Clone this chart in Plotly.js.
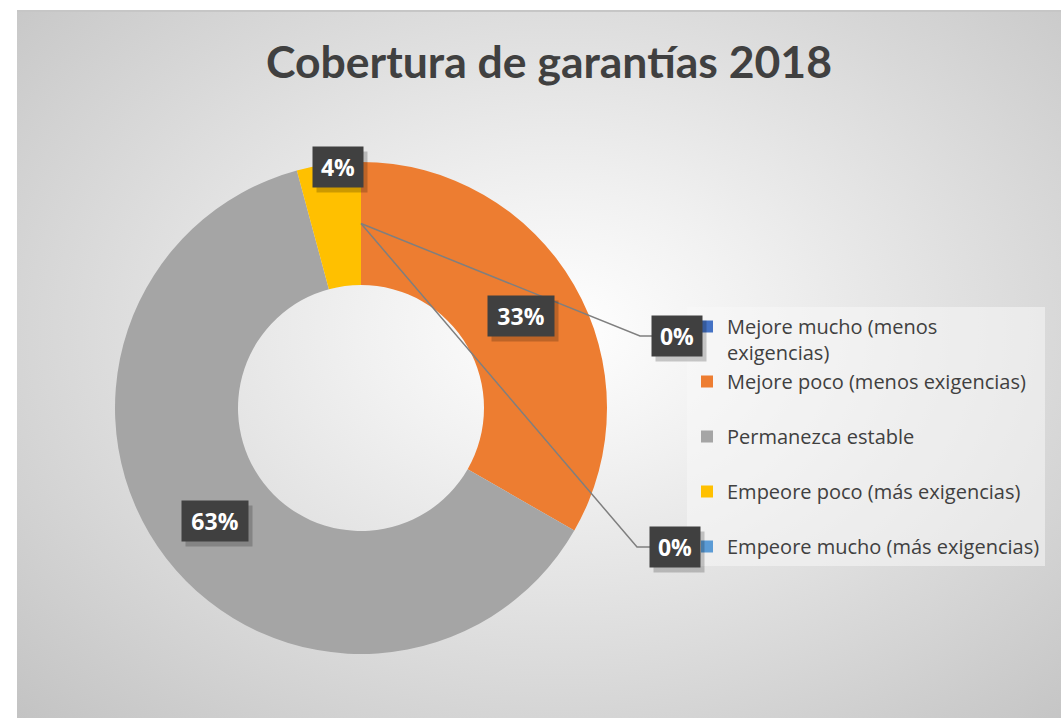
<!DOCTYPE html>
<html>
<head>
<meta charset="utf-8">
<script src="https://cdn.plot.ly/plotly-3.0.1.min.js"></script>
<style>
  html, body { margin: 0; padding: 0; background: #ffffff; }
  #wrap { position: relative; width: 1061px; height: 718px; overflow: hidden; background: #ffffff; }
  #bg { position: absolute; left: 17px; top: 10px; width: 1044px; height: 708px;
        border-top: 2px solid #c6c6c6; box-sizing: border-box;
        background: radial-gradient(ellipse farthest-corner at 52% 45%, #ffffff 0%, #f1f1f1 25%, #c3c3c3 100%); }
  #chart { position: absolute; left: 0; top: 0; width: 1061px; height: 718px; }
</style>
</head>
<body>
<div id="wrap">
  <div id="bg"></div>
  <div id="chart"></div>
</div>
<script>
// ---- data ----
const categories = [
  'Mejore mucho (menos exigencias)',
  'Mejore poco (menos exigencias)',
  'Permanezca estable',
  'Empeore poco (más exigencias)',
  'Empeore mucho (más exigencias)'
];
const legendLabels = [
  'Mejore mucho (menos<br>exigencias)',
  'Mejore poco (menos exigencias)<br>\u00a0',
  'Permanezca estable<br>\u00a0',
  'Empeore poco (más exigencias)<br>\u00a0',
  'Empeore mucho (más exigencias)'
];
const shares = [0, 33.3, 62.5, 4.2, 0];
const sliceColors = ['#4472C4', '#ED7D31', '#A5A5A5', '#FFC000', '#5B9BD5'];
const chartTitle = 'Cobertura de garantías 2018';

// ---- geometry / style ----
const W = 1061, H = 718;
const cx = 361, cy = 408, R = 246, holeFrac = 0.5;
const px = x => x / W;
const py = y => 1 - y / H;

const total = shares.reduce((a, b) => a + b, 0);
// label placement style per slice
const labelStyle = [
  { box: [677, 336], elbow: [640, 336] },
  { ring: 0.5, dx: 0, dy: 0 },
  { ring: 0.5, dx: 0, dy: 0 },
  { ring: 0.98, dx: 9, dy: 0 },
  { box: [675, 547], elbow: [637, 547] }
];

function polar(angDeg, r) {
  const a = angDeg * Math.PI / 180;
  return [cx + r * Math.sin(a), cy - r * Math.cos(a)];
}

const annotations = [];
const shapes = [];
let cum = 0;
shares.forEach((v, i) => {
  const mid = (cum + v / 2) / total * 360;
  cum += v;
  const pct = Math.round(v / total * 100) + '%';
  const st = labelStyle[i];
  let pos;
  if (st.box) {
    const start = polar(mid, R * (1 + holeFrac) / 2);
    pos = st.box;
    shapes.push({
      type: 'path', xref: 'paper', yref: 'paper',
      path: `M${px(start[0])},${py(start[1])} L${px(st.elbow[0])},${py(st.elbow[1])} L${px(pos[0] - 24)},${py(st.elbow[1])}`,
      line: { color: '#7f7f7f', width: 1.5 }
    });
  } else {
    const r = R * holeFrac + st.ring * R * (1 - holeFrac);
    const p = polar(mid, r);
    pos = [p[0] + st.dx, p[1] + st.dy];
  }
  const w = pct.length === 2 ? 40 : 56;
  // shadow box (no text)
  annotations.push({
    xref: 'paper', yref: 'paper', x: px(pos[0] + 4), y: py(pos[1] + 5),
    xanchor: 'center', yanchor: 'middle',
    text: '\u00a0', showarrow: false, width: w, height: 30, borderpad: 5,
    bgcolor: 'rgba(0,0,0,0.2)', font: { family: 'Open Sans', size: 23, color: 'rgba(0,0,0,0)' }
  });
  annotations.push({
    xref: 'paper', yref: 'paper', x: px(pos[0]), y: py(pos[1]),
    xanchor: 'center', yanchor: 'middle',
    text: '<b>' + pct + '</b>', showarrow: false, width: w, height: 30, borderpad: 5,
    bgcolor: '#404040', font: { family: 'Open Sans', size: 23, color: '#ffffff' }
  });
});

const trace = {
  type: 'pie',
  labels: legendLabels,
  values: shares,
  hovertext: categories,
  sort: false,
  direction: 'clockwise',
  rotation: 0,
  hole: holeFrac,
  textinfo: 'none',
  marker: { colors: sliceColors, line: { width: 0 } },
  domain: { x: [px(cx - R), px(cx + R)], y: [py(cy + R), py(cy - R)] },
  showlegend: true
};

const layout = {
  width: W, height: H,
  margin: { l: 0, r: 0, t: 0, b: 0 },
  paper_bgcolor: 'rgba(0,0,0,0)',
  plot_bgcolor: 'rgba(0,0,0,0)',
  title: {
    text: '<b>' + chartTitle + '</b>',
    font: { family: 'Lato', size: 44.5, color: '#404040' },
    x: px(549), xanchor: 'center', y: py(62), yanchor: 'middle', yref: 'paper'
  },
  legend: {
    x: px(687), xanchor: 'left', y: py(307), yanchor: 'top',
    font: { family: 'Open Sans', size: 20, color: '#404040' },
    bgcolor: 'rgba(248,248,248,0.55)', valign: 'top',
    traceorder: 'normal'
  },
  annotations: annotations,
  shapes: shapes,
  showlegend: true
};

Plotly.newPlot('chart', [trace], layout, { displayModeBar: false, staticPlot: true });
</script>
</body>
</html>
